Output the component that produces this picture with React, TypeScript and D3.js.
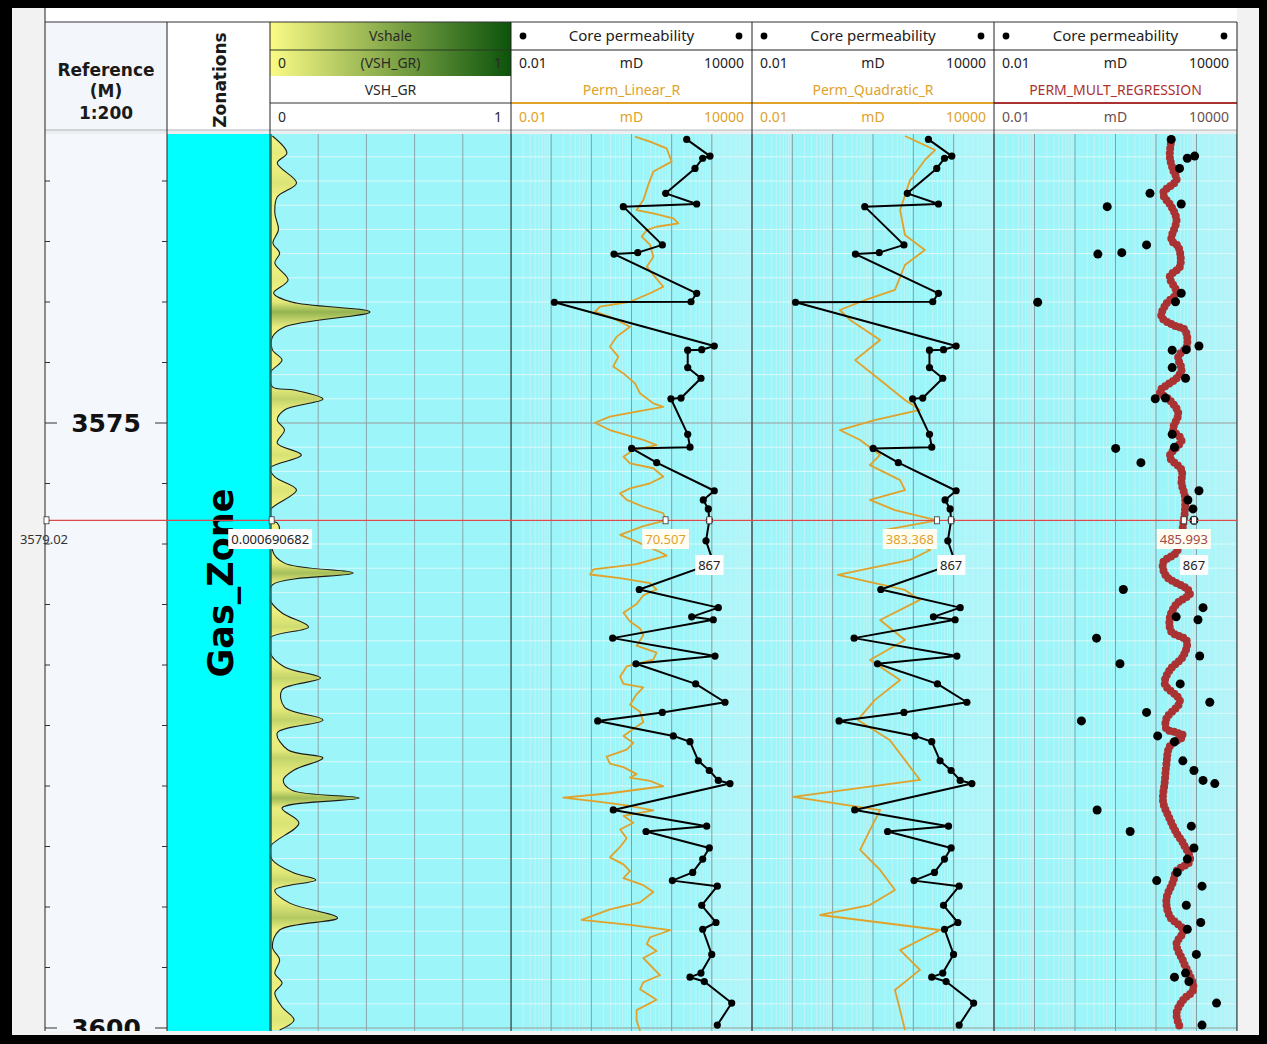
import React from "react";
import * as d3 from "d3";

// ---------- data ----------
// Vshale (VSH_GR), fraction 0..1, sampled by depth (m)
const vshDepth = [3563.14, 3563.84, 3564.26, 3565.08, 3565.66, 3566.32, 3567.02, 3567.56, 3567.98, 3568.39, 3569.09, 3569.63, 3570.0, 3570.41, 3571.03, 3571.45, 3571.98, 3572.4, 3572.93, 3573.51, 3573.64, 3574.01, 3574.46, 3574.88, 3575.29, 3575.83, 3576.32, 3576.86, 3577.23, 3577.77, 3578.6, 3579.02, 3579.13, 3579.42, 3580.25, 3580.79, 3581.2, 3581.69, 3582.31, 3582.85, 3583.43, 3583.88, 3584.5, 3585.08, 3585.54, 3586.03, 3586.74, 3587.27, 3587.81, 3588.51, 3588.84, 3589.34, 3589.75, 3590.17, 3590.5, 3590.91, 3591.53, 3592.52, 3593.06, 3593.6, 3593.88, 3594.3, 3594.83, 3595.45, 3595.95, 3596.65, 3597.19, 3597.73, 3598.14, 3598.55, 3599.13, 3599.67, 3600.08];
const vshValue = [0.01, 0.07, 0.03, 0.11, 0.03, 0.02, 0.035, 0.012, 0.04, 0.02, 0.075, 0.015, 0.09, 0.415, 0.06, 0.01, 0.01, 0.05, 0.0, 0.01, 0.1, 0.22, 0.06, 0.03, 0.06, 0.03, 0.13, 0.0, 0.02, 0.11, 0.0, 0.000690682, 0.03, 0.04, 0.01, 0.06, 0.345, 0.01, 0.0, 0.05, 0.16, 0.0, 0.0, 0.06, 0.21, 0.05, 0.06, 0.22, 0.03, 0.075, 0.22, 0.1, 0.055, 0.09, 0.37, 0.05, 0.12, 0.0, 0.01, 0.1, 0.19, 0.02, 0.08, 0.28, 0.04, 0.01, 0.04, 0.02, 0.05, 0.02, 0.05, 0.1, 0.04];

// Core permeability samples (mD)
const coreDepth = [3563.28, 3563.97, 3564.06, 3564.48, 3565.51, 3565.95, 3566.06, 3567.64, 3567.96, 3568.02, 3569.64, 3569.99, 3570.01, 3571.82, 3571.97, 3571.99, 3572.71, 3573.15, 3573.97, 3574.0, 3575.47, 3576.0, 3576.05, 3576.64, 3577.8, 3578.18, 3578.55, 3579.02, 3579.87, 3580.79, 3581.88, 3582.63, 3583.01, 3583.13, 3583.89, 3584.63, 3584.95, 3585.78, 3586.54, 3586.96, 3587.31, 3587.93, 3588.17, 3588.96, 3589.36, 3589.77, 3589.9, 3590.99, 3591.66, 3591.88, 3592.56, 3593.02, 3593.57, 3593.91, 3594.14, 3594.93, 3595.64, 3595.92, 3596.96, 3597.73, 3597.9, 3598.08, 3598.97, 3599.88];
const corePerm = [237, 900, 593, 381, 71, 420, 6.25, 58.5, 14.3, 3.67, 420, 303, 0.12, 1150, 560, 251, 251, 537, 171, 96, 251, 286, 10.1, 42.4, 1150, 613, 817, 867, 716, 1100, 15.6, 1450, 315, 1087, 3.4, 1200, 12.9, 396, 2128, 58.5, 1.44, 110, 286, 460, 865, 1450, 2830, 3.52, 745, 23, 865, 593, 334, 104, 1368, 560, 1270, 593, 993, 537, 286, 649, 3125, 1368];

// Perm_Linear_R (mD)
const linDepth = [3563.17, 3563.37, 3563.65, 3564.2, 3564.61, 3565.17, 3565.79, 3566.2, 3566.34, 3566.54, 3566.75, 3566.89, 3567.03, 3567.3, 3567.64, 3568.13, 3568.54, 3568.95, 3569.37, 3569.64, 3569.99, 3570.19, 3570.4, 3570.61, 3571.02, 3571.43, 3571.85, 3572.26, 3572.67, 3572.95, 3573.36, 3573.77, 3574.19, 3574.33, 3574.53, 3574.74, 3574.99, 3575.29, 3575.7, 3575.91, 3576.12, 3576.39, 3576.67, 3576.87, 3577.22, 3577.49, 3577.7, 3577.91, 3578.18, 3578.46, 3578.73, 3579.02, 3579.26, 3579.62, 3579.9, 3580.33, 3580.48, 3580.83, 3581.05, 3581.26, 3581.41, 3581.62, 3581.88, 3582.12, 3582.48, 3582.84, 3583.2, 3583.49, 3583.77, 3584.2, 3584.49, 3584.78, 3585.06, 3585.49, 3585.78, 3585.92, 3586.21, 3586.64, 3586.93, 3587.36, 3587.93, 3588.22, 3588.5, 3588.79, 3589.08, 3589.22, 3589.51, 3589.65, 3589.79, 3590.01, 3590.3, 3590.48, 3590.66, 3590.8, 3591.01, 3591.23, 3591.52, 3591.8, 3592.16, 3592.52, 3592.95, 3593.24, 3593.52, 3593.81, 3594.1, 3594.38, 3594.81, 3595.1, 3595.53, 3595.74, 3595.96, 3596.25, 3596.53, 3596.82, 3597.11, 3597.54, 3597.82, 3598.11, 3598.4, 3598.83, 3599.26, 3599.69, 3600.12];
const linPerm = [12.2, 28.9, 75, 100, 35, 26, 19.7, 13.4, 35, 110, 147, 42, 24, 18, 29, 35, 24, 38, 62, 29, 9.2, 1.64, 1.23, 2.9, 9.2, 4.3, 2.9, 4.7, 3.5, 6.3, 12.2, 16.3, 35, 62, 13.4, 2.9, 1.23, 2.9, 19.7, 42, 11.1, 6.3, 9.2, 35, 62, 29, 9.2, 5.2, 7.6, 19.7, 62, 70.507, 19.7, 5.2, 13.4, 51, 75, 13.4, 1.12, 0.93, 5.2, 29, 42, 19.7, 13.4, 6.3, 9.2, 16.3, 19.7, 13.4, 42, 35, 7.6, 5.2, 6.3, 19.7, 13.4, 9.2, 16.3, 19.7, 6.3, 11.1, 7.6, 2.4, 2.9, 6.3, 13.4, 9.2, 29, 62, 2.9, 0.2, 1.64, 7.6, 35, 6.3, 11.1, 5.2, 7.6, 5.2, 2.9, 6.3, 9.2, 6.3, 19.7, 35, 16.3, 2.9, 0.57, 9.2, 91, 29, 24, 42, 19.7, 35, 51, 19.7, 16.3, 42, 13.4, 13.4, 16.3];

// Perm_Quadratic_R (mD)
const quadDepth = [3563.14, 3563.72, 3564.13, 3564.96, 3566.2, 3567.23, 3567.85, 3568.47, 3569.5, 3569.92, 3570.33, 3570.74, 3571.57, 3572.4, 3573.22, 3574.05, 3574.46, 3574.88, 3575.29, 3575.7, 3576.32, 3576.74, 3577.36, 3577.77, 3578.18, 3578.6, 3579.02, 3579.42, 3580.25, 3580.66, 3581.28, 3581.9, 3582.31, 3583.14, 3583.97, 3584.79, 3585.62, 3586.45, 3587.27, 3588.1, 3588.93, 3589.75, 3590.45, 3591.0, 3591.82, 3592.64, 3593.47, 3594.3, 3594.92, 3595.33, 3595.95, 3596.78, 3597.6, 3598.43, 3599.26, 3600.08];
const quadPerm = [62, 345, 194, 83, 47, 62, 194, 62, 35, 6.3, 1.5, 2.7, 15, 3.6, 15, 62, 146, 11, 1.5, 4.8, 15, 8.4, 47, 62, 8.4, 35, 383.368, 20, 260, 83, 1.35, 62, 146, 15, 62, 8.4, 47, 11, 4.2, 26, 62, 146, 0.105, 15, 8.4, 4.8, 15, 35, 8.4, 0.49, 458, 47, 146, 35, 47, 62];

// PERM_MULT_REGRESSION (mD)
const multDepth = [3563.28, 3563.99, 3564.55, 3564.96, 3565.51, 3566.06, 3566.61, 3567.44, 3567.71, 3568.54, 3568.95, 3569.64, 3570.06, 3570.61, 3570.95, 3571.16, 3571.85, 3572.26, 3572.81, 3573.15, 3573.71, 3574.05, 3574.6, 3575.29, 3575.7, 3576.39, 3576.94, 3577.49, 3578.04, 3578.6, 3579.02, 3580.33, 3580.76, 3581.34, 3581.84, 3582.05, 3582.48, 3583.06, 3583.63, 3583.99, 3584.63, 3585.21, 3585.78, 3586.5, 3587.21, 3587.64, 3587.79, 3587.93, 3588.36, 3589.08, 3589.8, 3590.66, 3591.37, 3591.95, 3592.38, 3593.09, 3593.52, 3593.95, 3594.67, 3595.39, 3595.96, 3596.53, 3597.25, 3598.4, 3598.83, 3599.4, 3599.97];
const multPerm = [241, 219, 265, 321, 150, 241, 321, 241, 354, 389, 219, 321, 181, 136, 265, 518, 570, 354, 428, 321, 124, 219, 354, 265, 428, 219, 428, 428, 518, 518, 485.993, 321, 150, 181, 570, 690, 321, 219, 241, 570, 471, 219, 165, 389, 181, 181, 321, 471, 219, 181, 165, 150, 219, 321, 471, 690, 321, 265, 181, 219, 471, 321, 471, 835, 471, 321, 389];

// scales and labels
const depthLabels = [3575, 3600];
const depthTickStep = 2.5;
const vshScaleLabels = ["0", "1"];
const permScaleLabels = ["0.01", "10000"];
const permUnit = "mD";
const permDomain = [0.01, 10000];

// cursor readout
const cursorDepth = 3579.02;
const cursorVsh = 0.000690682;
const cursorLin = 70.507;
const cursorQuad = 383.368;
const cursorMult = 485.993;
const cursorCore = 867;

// ---------- drawing ----------
type P = { d: number; v: number };
const zip = (ds: number[], vs: number[]): P[] => ds.map((d, i) => ({ d, v: vs[i] }));

const UI = "'Noto Sans', 'Open Sans', sans-serif";
const BOLD = "'DejaVu Sans', Verdana, sans-serif";
const ORANGE = "#e0a22a";
const MULT = "#aa3232";

function textW(s: string, fs: number) {
  let w = 0;
  for (const c of s) w += (c === "." ? 0.27 : 0.572) * fs;
  return w;
}

function Tag({ cx, cy, text, color, bg }: { cx: number; cy: number; text: string; color: string; bg?: string }) {
  const fs = 13;
  const w = textW(text, fs) + 6;
  return (
    <g>
      {bg && <rect x={cx - w / 2} y={cy - 10} width={w} height={20} fill={bg} />}
      <text x={cx} y={cy + 4.5} textAnchor="middle" fontFamily={UI} fontSize={fs} fill={color}>
        {text}
      </text>
    </g>
  );
}

export default function App() {
  const y = d3.scaleLinear().domain([3575, 3600]).range([423, 1028]);
  const TOP = 134;
  const BOT = 1031;
  const HT = 22; // header top
  const HB = 130; // header bottom

  const depthX: [number, number] = [45, 167];
  const zoneX: [number, number] = [167, 270];
  const vshX: [number, number] = [270, 511];
  const permTracks = [
    { key: "lin", x: [511, 752] as [number, number], name: "Perm_Linear_R", color: ORANGE, scaleColor: ORANGE, data: zip(linDepth, linPerm), cursor: cursorLin, line: true },
    { key: "quad", x: [752, 994] as [number, number], name: "Perm_Quadratic_R", color: ORANGE, scaleColor: ORANGE, data: zip(quadDepth, quadPerm), cursor: cursorQuad, line: true },
    { key: "mult", x: [994, 1237] as [number, number], name: "PERM_MULT_REGRESSION", color: MULT, scaleColor: "#6a5050", data: zip(multDepth, multPerm), cursor: cursorMult, line: false },
  ];

  const xV = d3.scaleLinear().domain([0, 1]).range(vshX);
  const vshColor = d3.scaleLinear<string>().domain([0, 1]).range(["#f6f684", "#0a560a"]).interpolate(d3.interpolateRgb);
  const vsh = zip(vshDepth, vshValue);
  const core = zip(coreDepth, corePerm);

  const vArea = d3
    .area<P>()
    .y((p) => y(p.d))
    .x0(xV(0))
    .x1((p) => xV(p.v))
    .curve(d3.curveCatmullRom.alpha(0.5));
  const vLine = d3
    .line<P>()
    .x((p) => xV(p.v))
    .y((p) => y(p.d))
    .curve(d3.curveCatmullRom.alpha(0.5));

  const metreLines = d3.range(Math.ceil(y.invert(TOP)), Math.floor(y.invert(BOT)) + 1, 1);
  const depthTicks = d3.range(3565, 3601, depthTickStep);
  const cy = y(cursorDepth);

  const decades = d3.range(-2, 5).map((k) => Math.pow(10, k));
  const minors: number[] = [];
  d3.range(-2, 4).forEach((k) => d3.range(2, 10).forEach((m) => minors.push(m * Math.pow(10, k))));

  const cursorMark = (x: number, key: string) => (
    <rect key={key} x={x - 2.5} y={cy - 3.5} width={5} height={7} fill="#fff" stroke="#333" strokeWidth={0.8} />
  );

  return (
    <svg width={1267} height={1044} style={{ position: "absolute", left: 0, top: 0 }} xmlns="http://www.w3.org/2000/svg">
      <defs>
        <linearGradient id="vshHead" x1="0" y1="0" x2="1" y2="0">
          <stop offset="0" stopColor="#fbfb86" />
          <stop offset="1" stopColor="#0b530b" />
        </linearGradient>
        <linearGradient id="vshFill" gradientUnits="userSpaceOnUse" x1={0} y1={TOP} x2={0} y2={BOT}>
          {vsh.map((p, i) => (
            <stop key={i} offset={Math.max(0, Math.min(1, (y(p.d) - TOP) / (BOT - TOP)))} stopColor={vshColor(p.v)} />
          ))}
        </linearGradient>
        {[["clipVsh", vshX], ...permTracks.map((t) => ["clip-" + t.key, t.x])].map(([id, xr]: any) => (
          <clipPath id={id} key={id}>
            <rect x={xr[0]} y={TOP} width={xr[1] - xr[0]} height={BOT - TOP} />
          </clipPath>
        ))}
        <clipPath id="clipDepth">
          <rect x={depthX[0]} y={TOP} width={depthX[1] - depthX[0]} height={BOT - TOP} />
        </clipPath>
      </defs>

      {/* frame */}
      <rect x={0} y={0} width={1267} height={1044} fill="#000" />
      <rect x={12} y={8} width={1247} height={1027} fill="#f2f2f2" />
      <rect x={depthX[0]} y={8} width={1237 - depthX[0]} height={HT - 8} fill="#fff" />
      <rect x={depthX[0]} y={HB} width={1237 - depthX[0]} height={TOP - HB} fill="#eceff1" />

      {/* ---------- header ---------- */}
      <rect x={depthX[0]} y={HT} width={depthX[1] - depthX[0]} height={HB - HT} fill="#f3f6fa" />
      <g fontFamily={BOLD} fontWeight="bold" fontSize={17} fill="#1a1a1a" textAnchor="middle">
        <text x={106} y={76}>Reference</text>
        <text x={106} y={97}>(M)</text>
        <text x={106} y={119}>1:200</text>
      </g>
      <rect x={zoneX[0]} y={HT} width={zoneX[1] - zoneX[0]} height={HB - HT} fill="#fff" />
      <text transform={`translate(${226},${80}) rotate(-90)`} textAnchor="middle" fontFamily={BOLD} fontWeight="bold" fontSize={17} fill="#1a1a1a">
        Zonations
      </text>

      {/* Vshale header */}
      <rect x={vshX[0]} y={HT} width={vshX[1] - vshX[0]} height={HB - HT} fill="#fff" />
      <rect x={vshX[0]} y={HT} width={vshX[1] - vshX[0]} height={76 - HT} fill="url(#vshHead)" />
      <line x1={vshX[0]} x2={vshX[1]} y1={50} y2={50} stroke="#2a3a20" strokeWidth={1.2} />
      <g fontFamily={UI} fontSize={14} fill="#2a2a2a">
        <text x={(vshX[0] + vshX[1]) / 2} y={41} textAnchor="middle">Vshale</text>
        <text x={vshX[0] + 8} y={68}>{vshScaleLabels[0]}</text>
        <text x={(vshX[0] + vshX[1]) / 2} y={68} textAnchor="middle">(VSH_GR)</text>
        <text x={vshX[1] - 9} y={68} textAnchor="end">{vshScaleLabels[1]}</text>
        <text x={(vshX[0] + vshX[1]) / 2} y={95} textAnchor="middle">VSH_GR</text>
        <text x={vshX[0] + 8} y={122}>{vshScaleLabels[0]}</text>
        <text x={vshX[1] - 9} y={122} textAnchor="end">{vshScaleLabels[1]}</text>
      </g>
      <line x1={vshX[0]} x2={vshX[1]} y1={103} y2={103} stroke="#333" strokeWidth={1} />

      {permTracks.map((t) => {
        const [x0, x1] = t.x;
        const cx = (x0 + x1) / 2;
        return (
          <g key={"h" + t.key} fontFamily={UI} fontSize={14}>
            <rect x={x0} y={HT} width={x1 - x0} height={HB - HT} fill="#fff" />
            <circle cx={x0 + 12} cy={36} r={3.4} fill="#000" />
            <circle cx={x1 - 13} cy={36} r={3.4} fill="#000" />
            <text x={cx} y={41} textAnchor="middle" fontSize={15} fill="#222">Core permeability</text>
            <line x1={x0} x2={x1} y1={50} y2={50} stroke="#222" strokeWidth={1.2} />
            <text x={x0 + 8} y={68} fill="#222">{permScaleLabels[0]}</text>
            <text x={cx} y={68} textAnchor="middle" fill="#222">{permUnit}</text>
            <text x={x1 - 8} y={68} textAnchor="end" fill="#222">{permScaleLabels[1]}</text>
            <text x={cx} y={95} textAnchor="middle" fill={t.color}>{t.name}</text>
            <line x1={x0} x2={x1} y1={103} y2={103} stroke={t.color} strokeWidth={2} />
            <text x={x0 + 8} y={122} fill={t.scaleColor}>{permScaleLabels[0]}</text>
            <text x={cx} y={122} textAnchor="middle" fill={t.scaleColor}>{permUnit}</text>
            <text x={x1 - 8} y={122} textAnchor="end" fill={t.scaleColor}>{permScaleLabels[1]}</text>
          </g>
        );
      })}
      <line x1={depthX[0]} x2={1237} y1={HT} y2={HT} stroke="#333" strokeWidth={1} />
      <line x1={depthX[0]} x2={1237} y1={HB} y2={HB} stroke="#888" strokeWidth={0.6} />

      {/* ---------- depth track ---------- */}
      <rect x={depthX[0]} y={TOP} width={depthX[1] - depthX[0]} height={BOT - TOP} fill="#f4f7fb" />
      <g clipPath="url(#clipDepth)">
        {depthTicks.map((d) => {
          const major = depthLabels.includes(d);
          const len = major ? 12 : 5;
          return (
            <g key={d}>
              <line x1={depthX[0]} x2={depthX[0] + len} y1={y(d)} y2={y(d)} stroke="#333" strokeWidth={1} />
              <line x1={depthX[1] - len} x2={depthX[1]} y1={y(d)} y2={y(d)} stroke="#333" strokeWidth={1} />
            </g>
          );
        })}
        {depthLabels.map((d) => (
          <text key={d} x={106} y={y(d) + 9} textAnchor="middle" fontFamily={BOLD} fontWeight="bold" fontSize={25} fill="#111">
            {d}
          </text>
        ))}
      </g>

      {/* ---------- zonation ---------- */}
      <rect x={zoneX[0]} y={TOP} width={zoneX[1] - zoneX[0]} height={BOT - TOP} fill="#00ffff" />
      <text transform={`translate(${221},${583}) rotate(-90)`} textAnchor="middle" dominantBaseline="central" fontFamily={BOLD} fontWeight="bold" fontSize={35} fill="#000">
        Gas_Zone
      </text>

      {/* ---------- Vshale track ---------- */}
      <rect x={vshX[0]} y={TOP} width={vshX[1] - vshX[0]} height={BOT - TOP} fill="#9cf5f8" />
      <g clipPath="url(#clipVsh)">
        {metreLines.map((d) => (
          <line key={d} x1={vshX[0]} x2={vshX[1]} y1={y(d)} y2={y(d)} stroke={d % 25 === 0 ? "#9a9a9a" : "#dcf9fa"} strokeWidth={1} />
        ))}
        {d3.range(0.2, 1, 0.2).map((v) => (
          <line key={v} x1={xV(v)} x2={xV(v)} y1={TOP} y2={BOT} stroke="#8ba6ab" strokeWidth={1} />
        ))}
        <path d={vArea(vsh) || ""} fill="url(#vshFill)" />
        <path d={vLine(vsh) || ""} fill="none" stroke="#1c1c1c" strokeWidth={1.1} />
      </g>

      {/* ---------- permeability tracks ---------- */}
      {permTracks.map((t) => {
        const [x0, x1] = t.x;
        const xs = d3.scaleLog().domain(permDomain).range([x0, x1]);
        const curve = d3
          .line<P>()
          .x((p) => xs(p.v))
          .y((p) => y(p.d));
        const coreLine = d3
          .line<P>()
          .x((p) => xs(p.v))
          .y((p) => y(p.d));
        return (
          <g key={"t" + t.key}>
            <rect x={x0} y={TOP} width={x1 - x0} height={BOT - TOP} fill="#9cf5f8" />
            <rect x={xs(1000)} y={TOP} width={x1 - xs(1000)} height={BOT - TOP} fill="#ffffff" opacity={0.16} />
            <g clipPath={`url(#clip-${t.key})`}>
              {minors.map((m) => (
                <line key={m} x1={xs(m)} x2={xs(m)} y1={TOP} y2={BOT} stroke="#c2f2f5" strokeWidth={1} />
              ))}
              {metreLines.map((d) => (
                <line key={d} x1={x0} x2={x1} y1={y(d)} y2={y(d)} stroke={d % 25 === 0 ? "#9a9a9a" : "#dcf9fa"} strokeWidth={1} />
              ))}
              {decades.map((m) => (
                <line key={"M" + m} x1={xs(m)} x2={xs(m)} y1={TOP} y2={BOT} stroke="#7fa2a8" strokeWidth={1} />
              ))}
              {t.line ? (
                <>
                  <path d={curve(t.data) || ""} fill="none" stroke={ORANGE} strokeWidth={1.8} strokeLinejoin="round" />
                  <path d={coreLine(core) || ""} fill="none" stroke="#000" strokeWidth={2} strokeLinejoin="round" />
                  {core.map((p, i) => (
                    <circle key={i} cx={xs(p.v)} cy={y(p.d)} r={3.6} fill="#000" />
                  ))}
                </>
              ) : (
                <>
                  <path
                    d={curve.curve(d3.curveCatmullRom.alpha(0.5))(t.data) || ""}
                    fill="none"
                    stroke={MULT}
                    strokeWidth={8}
                    strokeLinecap="round"
                    strokeDasharray="0 4.6"
                  />
                  {core.map((p, i) => (
                    <circle key={i} cx={xs(p.v)} cy={y(p.d)} r={4.5} fill="#000" />
                  ))}
                </>
              )}
            </g>
          </g>
        );
      })}

      {/* track borders */}
      {[depthX[0], depthX[1], zoneX[1], vshX[1], 752, 994, 1237].map((x) => (
        <line key={"b" + x} x1={x} x2={x} y1={x === depthX[0] ? 8 : HT} y2={BOT} stroke="#222" strokeWidth={1} />
      ))}
      <line x1={vshX[0] + 1} x2={vshX[0] + 1} y1={TOP} y2={BOT} stroke="#0c6f6f" strokeWidth={1.5} />

      {/* ---------- depth cursor ---------- */}
      <line x1={depthX[0]} x2={1237} y1={cy} y2={cy} stroke="#dc4a4a" strokeWidth={1.2} />
      {(() => {
        const xl = d3.scaleLog().domain(permDomain);
        const marks = [
          cursorMark(depthX[0] + 1.5, "m0"),
          cursorMark(xV(cursorVsh) + 1.5, "m1"),
        ];
        const tags: React.ReactNode[] = [];
        permTracks.forEach((t, i) => {
          xl.range(t.x);
          const xc = xl(t.cursor);
          const xk = xl(cursorCore);
          marks.push(cursorMark(xc, "c" + i));
          marks.push(cursorMark(xk, "k" + i));
          const valueColor = t.key === "mult" ? "#a04848" : ORANGE;
          const shift = t.key === "quad" ? -textW(String(t.cursor), 13) / 2 - 3 : 0;
          tags.push(<Tag key={"v" + i} cx={xc + shift} cy={539} text={String(t.cursor)} color={valueColor} bg="#fffdf2" />);
          tags.push(<Tag key={"k" + i} cx={xk} cy={565} text={String(cursorCore)} color="#222" bg="#fdfdfd" />);
        });
        return (
          <g>
            {marks}
            <text x={44} y={544} textAnchor="middle" fontFamily={UI} fontSize={13} fill="#333">
              {cursorDepth.toFixed(2)}
            </text>
            <Tag cx={xV(cursorVsh)} cy={539} text={String(cursorVsh)} color="#222" bg="#fdfdfd" />
            {tags}
          </g>
        );
      })()}
    </svg>
  );
}
